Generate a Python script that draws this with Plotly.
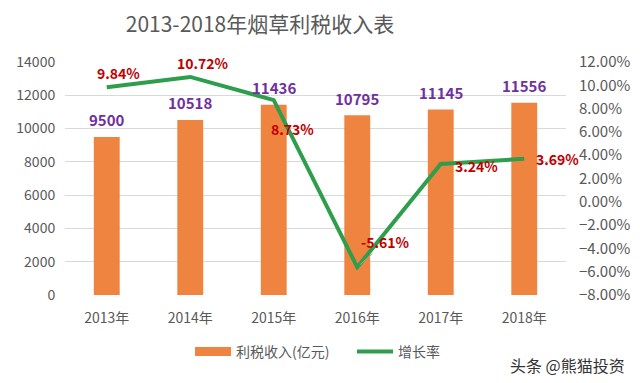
import plotly.graph_objects as go

years = ["2013年", "2014年", "2015年", "2016年", "2017年", "2018年"]
revenue = [9500, 10518, 11436, 10795, 11145, 11556]
growth = [0.0984, 0.1072, 0.0873, -0.0561, 0.0324, 0.0369]
growth_labels = ["9.84%", "10.72%", "8.73%", "-5.61%", "3.24%", "3.69%"]

FONT = "Noto Sans CJK SC, Open Sans, sans-serif"
GRAY = "#595959"
ORANGE = "#EF8440"
GREEN = "#2E9E4C"
W, H = 632, 375

fig = go.Figure()
fig.add_trace(go.Bar(
    x=years, y=revenue, name="利税收入(亿元)",
    marker=dict(color=ORANGE, line=dict(width=0)),
    width=0.31, yaxis="y", showlegend=False,
))
# legend proxy for the bar series (wide rectangle swatch)
fig.add_trace(go.Scatter(
    x=[years[0]], y=[None], name="利税收入(亿元)", mode="lines",
    line=dict(color=ORANGE, width=9), yaxis="y", showlegend=True,
))
fig.add_trace(go.Scatter(
    x=years, y=growth, name="增长率", mode="lines",
    line=dict(color=GREEN, width=4), yaxis="y2",
))

# bar value labels
for xv, v in zip(years, revenue):
    fig.add_annotation(x=xv, y=v, xref="x", yref="y", text=f"<b>{v}</b>",
                       showarrow=False, yshift=17,
                       font=dict(family=FONT, size=15, color="#7030A0"))

# growth labels: pixel offsets
offs = [(12, 14), (13, 14), (19, -29), (28, 25), (36, -2), (33, 0)]
for i, (xv, g, lab) in enumerate(zip(years, growth, growth_labels)):
    dx, dy = offs[i]
    if i == 3:
        fig.add_annotation(x=xv, y=g, xref="x", yref="y2", text=f"<b>{lab}</b>",
                           showarrow=True, arrowhead=0, arrowwidth=1,
                           arrowcolor="#A6A6A6", ax=dx, ay=-dy, standoff=4,
                           font=dict(family=FONT, size=14, color="#C00000"))
    else:
        fig.add_annotation(x=xv, y=g, xref="x", yref="y2", text=f"<b>{lab}</b>",
                           showarrow=False, xshift=dx, yshift=dy,
                           font=dict(family=FONT, size=14, color="#C00000"))

fig.add_annotation(x=1.122, y=-0.30, xref="paper", yref="paper",
                   text="头条 @熊猫投资", showarrow=False,
                   xanchor="right", yanchor="middle",
                   font=dict(family=FONT, size=16, color="#333333"))

fig.update_layout(
    width=W, height=H,
    margin=dict(l=57, r=74, t=54, b=88, autoexpand=False),
    paper_bgcolor="white", plot_bgcolor="white",
    title=dict(text="2013-2018年烟草利税收入表", x=252 / W, xanchor="center",
               yref="container", y=1 - 17 / H, yanchor="middle",
               font=dict(family=FONT, size=21, color=GRAY)),
    font=dict(family=FONT, size=13, color=GRAY),
    xaxis=dict(range=[-0.5, 5.5], showgrid=False, ticks="outside", ticklen=10,
               tickcolor="rgba(0,0,0,0)",
               showline=False, tickfont=dict(size=14, color=GRAY)),
    yaxis=dict(range=[0, 14000], dtick=2000, tickformat="d",
               showgrid=True, gridcolor="#D9D9D9",
               gridwidth=1, zeroline=False, showline=False,
               ticks="outside", ticklen=6, tickcolor="rgba(0,0,0,0)",
               tickfont=dict(size=14, color=GRAY)),
    yaxis2=dict(overlaying="y", side="right", range=[-0.08, 0.12], dtick=0.02,
                tickformat=".2%", showgrid=False, zeroline=False, showline=False,
                ticks="outside", ticklen=9, tickcolor="rgba(0,0,0,0)",
                tickfont=dict(size=15, color=GRAY)),
    legend=dict(orientation="h", x=(190 - 65) / 501, xanchor="left",
                yref="container", y=1 - 344 / H, yanchor="middle",
                entrywidth=111,
                font=dict(family=FONT, size=14, color=GRAY), itemwidth=36),
    showlegend=True,
)

fig.write_html("out.html")
